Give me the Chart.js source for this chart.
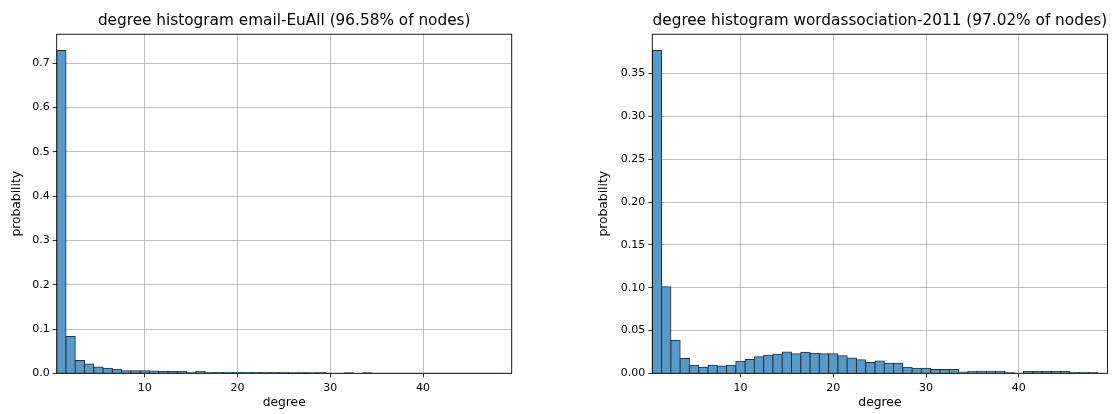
<!DOCTYPE html>
<html>
<head>
<meta charset="utf-8">
<script src="https://cdn.jsdelivr.net/npm/chart.js@4.4.1/dist/chart.umd.min.js"></script>
<style>
  html, body { margin: 0; padding: 0; background: #fff; }
  #wrap { position: relative; width: 1112px; height: 414px; overflow: hidden; }
  canvas { position: absolute; top: 0; }
  #c1 { left: 0; }
  #c2 { left: 556px; }
</style>
</head>
<body>
<div id="wrap">
  <canvas id="c1" width="556" height="414"></canvas>
  <canvas id="c2" width="556" height="414"></canvas>
</div>
<script>
// Degree bins (unit-wide bins centred on each degree)
const degrees = [1,2,3,4,5,6,7,8,9,10,11,12,13,14,15,16,17,18,19,20,21,22,23,24,
                 25,26,27,28,29,30,31,32,33,34,35,36,37,38,39,40,41,42,43,44,45,46,47,48];

// email-EuAll: probability per degree
const emailProb = [0.729,0.083,0.029,0.021,0.0145,0.0115,0.009,0.0055,0.0055,0.0055,
                   0.005,0.004,0.004,0.004,0.0025,0.0045,0.002,0.0019,0.0017,0.0018,
                   0.0016,0.0017,0.0016,0.0017,0.0016,0.0015,0.0016,0.0015,0.0016,0.0003,
                   0.0003,0.0015,0.0003,0.0015,0.0003,0.0003,0.0003,0.0003,0.0003,0.0003,
                   0.0003,0.0003,0.0003,0.0003,0.0003,0.0003,0.0003,0.0003];

// wordassociation-2011: probability per degree
const wordProb = [0.377,0.101,0.0386,0.0172,0.0095,0.0072,0.0095,0.0084,0.0095,0.0142,
                  0.016,0.0192,0.0212,0.0223,0.025,0.0227,0.0245,0.0235,0.0227,0.0227,
                  0.0204,0.018,0.0157,0.0125,0.0145,0.0118,0.0118,0.0071,0.006,0.006,
                  0.0045,0.0045,0.0045,0.0015,0.0024,0.0024,0.0024,0.0024,0.0012,0.0003,
                  0.002,0.002,0.002,0.002,0.002,0.001,0.001,0.001];

// Axis ticks
const xTicks = [10, 20, 30, 40];
const emailYTicks = [0, 0.1, 0.2, 0.3, 0.4, 0.5, 0.6, 0.7];
const wordYTicks = [0, 0.05, 0.10, 0.15, 0.20, 0.25, 0.30, 0.35];

const titles = [
  'degree histogram email-EuAll (96.58% of nodes)',
  'degree histogram wordassociation-2011 (97.02% of nodes)'
];

const FONT = "'DejaVu Sans', sans-serif";
const GRID = '#b0b0b0';
const BAR_FILL = 'rgb(87,153,199)';
const BAR_EDGE = 'rgb(38,48,60)';

// Axes frame (all four spines)
const framePlugin = {
  id: 'frame',
  afterDraw(chart) {
    const a = chart.chartArea, ctx = chart.ctx;
    ctx.save();
    ctx.strokeStyle = '#000';
    ctx.lineWidth = 0.9;
    ctx.strokeRect(a.left, a.top, a.right - a.left, a.bottom - a.top);
    ctx.restore();
  }
};

function makeHist(canvasId, title, values, yTicks, decimals, pad, yWidth) {
  const points = degrees.map((d, i) => ({ x: d, y: values[i] }));
  return new Chart(document.getElementById(canvasId), {
    type: 'bar',
    data: {
      datasets: [{
        data: points,
        backgroundColor: BAR_FILL,
        borderColor: BAR_EDGE,
        borderWidth: 1,
        barPercentage: 1,
        categoryPercentage: 1,
        inflateAmount: 0.5
      }]
    },
    options: {
      responsive: false,
      animation: false,
      devicePixelRatio: 1,
      layout: { padding: pad },
      plugins: {
        legend: { display: false },
        tooltip: { enabled: false },
        title: {
          display: true,
          text: title,
          fullSize: false,
          color: '#000',
          font: { family: FONT, size: 15.3, weight: 'normal' },
          padding: { top: 11.8, bottom: 4.1 }
        }
      },
      scales: {
        x: {
          type: 'linear',
          min: 0.5,
          max: 49.55,
          offset: false,
          z: 1,
          afterBuildTicks: s => { s.ticks = xTicks.map(v => ({ value: v })); },
          afterFit: s => { s.height = 40.7; },
          grid: { color: GRID, lineWidth: 0.8, tickColor: '#000', tickLength: 4, tickWidth: 0.8, offset: false },
          border: { display: false },
          ticks: { color: '#000', font: { family: FONT, size: 11 }, padding: 4, maxRotation: 0,
                   callback: v => String(v) },
          title: { display: true, text: 'degree', color: '#000',
                   font: { family: FONT, size: 12.3 }, padding: { top: 0, bottom: 3.4 } }
        },
        y: {
          type: 'linear',
          min: 0,
          max: Math.max(...values) * 1.05,
          z: 1,
          afterBuildTicks: s => { s.ticks = yTicks.map(v => ({ value: v })); },
          afterFit: s => { s.width = yWidth; },
          grid: { color: GRID, lineWidth: 0.8, tickColor: '#000', tickLength: 4, tickWidth: 0.8 },
          border: { display: false },
          ticks: { color: '#000', font: { family: FONT, size: 11 }, padding: 3,
                   callback: v => Number(v).toFixed(decimals) },
          title: { display: true, text: 'probability', color: '#000',
                   font: { family: FONT, size: 12.3 }, padding: { top: 9.3, bottom: 0 } }
        }
      }
    },
    plugins: [framePlugin]
  });
}

makeHist('c1', titles[0], emailProb, emailYTicks, 1,
         { left: 0, right: 44.3, top: 0, bottom: 0 }, 56.7);
makeHist('c2', titles[1], wordProb, wordYTicks, 2,
         { left: 31.3, right: 4.5, top: 0, bottom: 0 }, 65);
</script>
</body>
</html>
